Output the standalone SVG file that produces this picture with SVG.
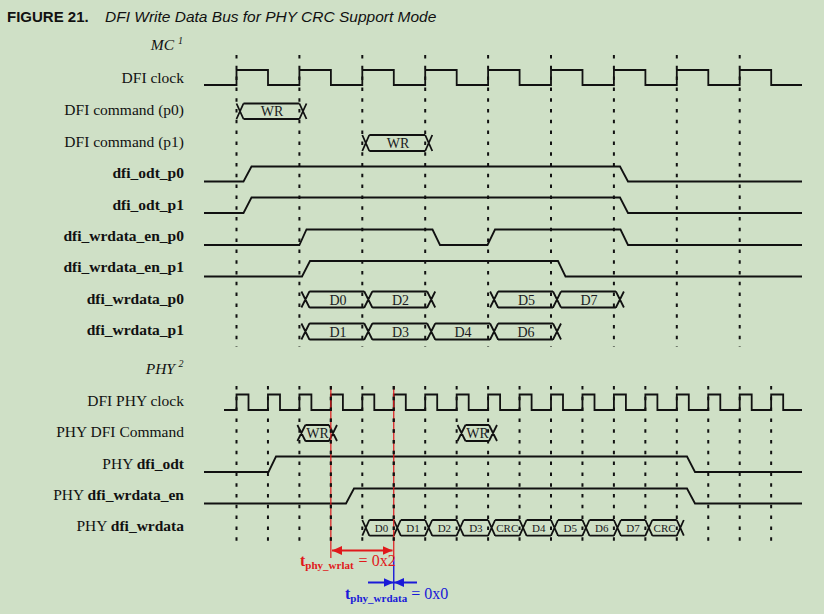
<svg xmlns="http://www.w3.org/2000/svg" width="824" height="614" viewBox="0 0 824 614">
<defs>
<style>
.bg{fill:#cfe0c6}
.lbl{font-family:"Liberation Serif","Times New Roman",serif;font-size:15.5px;fill:#111;text-anchor:end}
.b{font-weight:bold}
.sig{fill:none;stroke:#111;stroke-width:1.8;stroke-linejoin:miter}
.grid{fill:none;stroke:#111;stroke-width:2;stroke-dasharray:3.5 7.3}
.dl{font-family:"Liberation Serif","Times New Roman",serif;font-size:14px;fill:#1a1a22;text-anchor:middle}
.dls{font-family:"Liberation Serif","Times New Roman",serif;font-size:11px;fill:#1a1a22;text-anchor:middle}
.red{stroke:#e0191b;fill:none}
.blue{stroke:#1a1ad8;fill:none}
</style>
<marker id="ar" markerUnits="userSpaceOnUse" markerWidth="11" markerHeight="9" refX="10" refY="4.5" orient="auto-start-reverse"><path d="M0,0 L10,4.5 L0,9 z" fill="#e0191b"/></marker>
<marker id="ab" markerUnits="userSpaceOnUse" markerWidth="11" markerHeight="9" refX="10" refY="4.5" orient="auto-start-reverse"><path d="M0,0 L10,4.5 L0,9 z" fill="#1a1ad8"/></marker>
</defs>
<rect class="bg" x="0" y="0" width="824" height="614"/>

<g id="title">
<text x="7" y="21.5" font-family="Liberation Sans, Arial, sans-serif" font-size="15" font-weight="bold" fill="#111">FIGURE 21.</text>
<text x="105" y="21.5" font-family="Liberation Sans, Arial, sans-serif" font-size="15.5" font-style="italic" fill="#111">DFI Write Data Bus for PHY CRC Support Mode</text>
</g>

<g id="grid-mc">
<path class="grid" d="M236.5,55V347 M299.4,55V347 M362.3,55V347 M425.2,55V347 M488.1,55V347 M551,55V347 M613.9,55V347 M676.8,55V347 M739.7,55V347"/>
</g>
<g id="grid-phy">
<path class="grid" d="M236.5,386V545 M267.95,386V545 M299.4,386V545 M330.85,386V545 M362.3,386V545 M393.75,386V545 M425.2,386V545 M456.65,386V545 M488.1,386V545 M519.55,386V545 M551,386V545 M582.45,386V545 M613.9,386V545 M645.35,386V545 M676.8,386V545 M708.25,386V545 M739.7,386V545 M771.15,386V545"/>
</g>

<g id="mc-header"><text class="lbl" x="174" y="50" font-style="italic">MC</text><text x="178" y="44" font-family="Liberation Serif, serif" font-size="10" font-style="italic" fill="#111">1</text></g>

<g id="dfi-clock">
<text class="lbl" x="184" y="83">DFI clock</text>
<path class="sig" d="M204,85 H236.5 V70 H268 V85 H299.4 V70 H330.9 V85 H362.3 V70 H393.8 V85 H425.2 V70 H456.7 V85 H488.1 V70 H519.6 V85 H551 V70 H582.5 V85 H613.9 V70 H645.4 V85 H676.8 V70 H708.3 V85 H739.7 V70 H771.2 V85 H802"/>
</g>
<g id="dfi-cmd-p0">
<text class="lbl" x="184" y="115">DFI command (p0)</text>
<path class="sig" d="M236.5,103.5 L243.5,119 M236.5,119 L243.5,103.5 M243.5,103.5 H299.4 M243.5,119 H299.4 M299.4,103.5 L306.5,119 M299.4,119 L306.5,103.5"/>
<text class="dl" x="272" y="116">WR</text>
</g>
<g id="dfi-cmd-p1">
<text class="lbl" x="184" y="147">DFI command (p1)</text>
<path class="sig" d="M362.3,135 L369.3,151 M362.3,151 L369.3,135 M369.3,135 H425.2 M369.3,151 H425.2 M425.2,135 L432.3,151 M425.2,151 L432.3,135"/>
<text class="dl" x="398" y="148">WR</text>
</g>
<g id="dfi-odt-p0">
<text class="lbl b" x="184" y="178">dfi_odt_p0</text>
<path class="sig" d="M204,181.5 H243.5 L251.5,166.5 H620 L628,181.5 H802"/>
</g>
<g id="dfi-odt-p1">
<text class="lbl b" x="184" y="209.5">dfi_odt_p1</text>
<path class="sig" d="M204,213 H243.5 L251.5,197.5 H620 L628,213 H802"/>
</g>
<g id="dfi-wrdata-en-p0">
<text class="lbl b" x="184" y="241">dfi_wrdata_en_p0</text>
<path class="sig" d="M204,245 H299.4 L306.5,229.5 H432.5 L440,245 H487.5 L495,229.5 H620.5 L628,245 H802"/>
</g>
<g id="dfi-wrdata-en-p1">
<text class="lbl b" x="184" y="272">dfi_wrdata_en_p1</text>
<path class="sig" d="M204,276.5 H302 L310,261 H558 L565.5,276.5 H802"/>
</g>
<g id="dfi-wrdata-p0">
<text class="lbl b" x="184" y="303.5">dfi_wrdata_p0</text>
<path class="sig" d="M301.4,291.5 L309.4,307.5 M301.4,307.5 L309.4,291.5 M309.4,291.5 H364.3 M309.4,307.5 H364.3 M364.3,291.5 L372.3,307.5 M364.3,307.5 L372.3,291.5 M372.3,291.5 H427.2 M372.3,307.5 H427.2 M427.2,291.5 L435.2,307.5 M427.2,307.5 L435.2,291.5 M490.1,291.5 L498.1,307.5 M490.1,307.5 L498.1,291.5 M498.1,291.5 H553 M498.1,307.5 H553 M553,291.5 L561,307.5 M553,307.5 L561,291.5 M561,291.5 H615.9 M561,307.5 H615.9 M615.9,291.5 L623.9,307.5 M615.9,307.5 L623.9,291.5"/>
<text class="dl" x="338" y="304.5">D0</text>
<text class="dl" x="400.5" y="304.5">D2</text>
<text class="dl" x="526.5" y="304.5">D5</text>
<text class="dl" x="589" y="304.5">D7</text>
</g>
<g id="dfi-wrdata-p1">
<text class="lbl b" x="184" y="335">dfi_wrdata_p1</text>
<path class="sig" d="M301.4,323.5 L309.4,339.5 M301.4,339.5 L309.4,323.5 M309.4,323.5 H364.3 M309.4,339.5 H364.3 M364.3,323.5 L372.3,339.5 M364.3,339.5 L372.3,323.5 M372.3,323.5 H427.2 M372.3,339.5 H427.2 M427.2,323.5 L435.2,339.5 M427.2,339.5 L435.2,323.5 M435.2,323.5 H490.1 M435.2,339.5 H490.1 M490.1,323.5 L498.1,339.5 M490.1,339.5 L498.1,323.5 M498.1,323.5 H553 M498.1,339.5 H553 M553,323.5 L561,339.5 M553,339.5 L561,323.5"/>
<text class="dl" x="338" y="336.5">D1</text>
<text class="dl" x="400.5" y="336.5">D3</text>
<text class="dl" x="463" y="336.5">D4</text>
<text class="dl" x="526" y="336.5">D6</text>
</g>

<g id="phy-header"><text class="lbl" x="175" y="374" font-style="italic">PHY</text><text x="178.5" y="367" font-family="Liberation Serif, serif" font-size="10" font-style="italic" fill="#111">2</text></g>

<g id="dfi-phy-clock">
<text class="lbl" x="184" y="405.5">DFI PHY clock</text>
<path class="sig" d="M224,410 H236.5 V394.5 H248.5 V410 H267.95 V394.5 H280 V410 H299.4 V394.5 H311.4 V410 H330.85 V394.5 H342.9 V410 H362.3 V394.5 H374.3 V410 H393.75 V394.5 H405.8 V410 H425.2 V394.5 H437.2 V410 H456.65 V394.5 H468.7 V410 H488.1 V394.5 H500.1 V410 H519.55 V394.5 H531.6 V410 H551 V394.5 H563 V410 H582.45 V394.5 H594.5 V410 H613.9 V394.5 H625.9 V410 H645.35 V394.5 H657.4 V410 H676.8 V394.5 H688.8 V410 H708.25 V394.5 H720.3 V410 H739.7 V394.5 H751.7 V410 H771.15 V394.5 H783.2 V410 H802"/>
</g>
<g id="phy-dfi-command">
<text class="lbl" x="184" y="437">PHY DFI Command</text>
<path class="sig" d="M297.4,425 L305.4,441 M297.4,441 L305.4,425 M305.4,425 H329 M305.4,441 H329 M329,425 L337,441 M329,441 L337,425 M457.5,425 L465.5,441 M457.5,441 L465.5,425 M465.5,425 H489 M465.5,441 H489 M489,425 L497,441 M489,441 L497,425"/>
<text class="dl" x="317.5" y="438" font-size="13.5">WR</text>
<text class="dl" x="477.5" y="438" font-size="13.5">WR</text>
</g>
<g id="phy-dfi-odt">
<text class="lbl" x="184" y="468.5">PHY <tspan class="b">dfi_odt</tspan></text>
<path class="sig" d="M204,472 H268.5 L276,456.5 H687 L695,472 H802"/>
</g>
<g id="phy-dfi-wrdata-en">
<text class="lbl" x="184" y="499.5">PHY <tspan class="b">dfi_wrdata_en</tspan></text>
<path class="sig" d="M204,503.5 H346 L354,488.5 H687 L695,503.5 H802"/>
</g>
<g id="phy-dfi-wrdata">
<text class="lbl" x="184" y="530.5">PHY <tspan class="b">dfi_wrdata</tspan></text>
<path class="sig" d="M362.3,520 L369.3,535.7 M362.3,535.7 L369.3,520 M369.3,520 H393.75 M369.3,535.7 H393.75 M393.75,520 L400.75,535.7 M393.75,535.7 L400.75,520 M400.75,520 H425.2 M400.75,535.7 H425.2 M425.2,520 L432.2,535.7 M425.2,535.7 L432.2,520 M432.2,520 H456.65 M432.2,535.7 H456.65 M456.65,520 L463.65,535.7 M456.65,535.7 L463.65,520 M463.65,520 H488.1 M463.65,535.7 H488.1 M488.1,520 L495.1,535.7 M488.1,535.7 L495.1,520 M495.1,520 H519.55 M495.1,535.7 H519.55 M519.55,520 L526.55,535.7 M519.55,535.7 L526.55,520 M526.55,520 H551 M526.55,535.7 H551 M551,520 L558,535.7 M551,535.7 L558,520 M558,520 H582.45 M558,535.7 H582.45 M582.45,520 L589.45,535.7 M582.45,535.7 L589.45,520 M589.45,520 H613.9 M589.45,535.7 H613.9 M613.9,520 L620.9,535.7 M613.9,535.7 L620.9,520 M620.9,520 H645.35 M620.9,535.7 H645.35 M645.35,520 L652.35,535.7 M645.35,535.7 L652.35,520 M652.35,520 H676.8 M652.35,535.7 H676.8 M676.8,520 L683.8,535.7 M676.8,535.7 L683.8,520"/>
<text class="dls" x="381.5" y="532">D0</text>
<text class="dls" x="413" y="532">D1</text>
<text class="dls" x="444.4" y="532">D2</text>
<text class="dls" x="475.9" y="532">D3</text>
<text class="dls" x="507.3" y="532">CRC</text>
<text class="dls" x="538.8" y="532">D4</text>
<text class="dls" x="570.2" y="532">D5</text>
<text class="dls" x="601.7" y="532">D6</text>
<text class="dls" x="633.1" y="532">D7</text>
<text class="dls" x="664.6" y="532">CRC</text>
</g>

<g id="connectors">
<path class="red" stroke-width="1.2" d="M330.85,386V558 M393.75,386V557"/>
<path class="grid" d="M330.85,386V545 M393.75,386V545"/>
<path class="blue" stroke-width="1.4" d="M393.75,557V590"/>
<line class="red" stroke-width="2" x1="332" y1="550.5" x2="392.5" y2="550.5" marker-start="url(#ar)" marker-end="url(#ar)"/>
<line class="blue" stroke-width="2" x1="368" y1="582.5" x2="393.5" y2="582.5" marker-end="url(#ab)"/>
<line class="blue" stroke-width="2" x1="417" y1="582.5" x2="394" y2="582.5" marker-end="url(#ab)"/>
</g>
<g id="t-phy-wrlat">
<text x="300" y="566" font-family="Liberation Serif, serif" font-size="16" fill="#e0191b"><tspan font-weight="bold">t</tspan><tspan font-size="11" font-weight="bold" dy="3">phy_wrlat</tspan><tspan dy="-3" dx="5">= 0x2</tspan></text>
</g>
<g id="t-phy-wrdata">
<text x="345" y="599" font-family="Liberation Serif, serif" font-size="16" fill="#1a1ad8"><tspan font-weight="bold">t</tspan><tspan font-size="11" font-weight="bold" dy="3">phy_wrdata</tspan><tspan dy="-3" dx="4">= 0x0</tspan></text>
</g>
</svg>
